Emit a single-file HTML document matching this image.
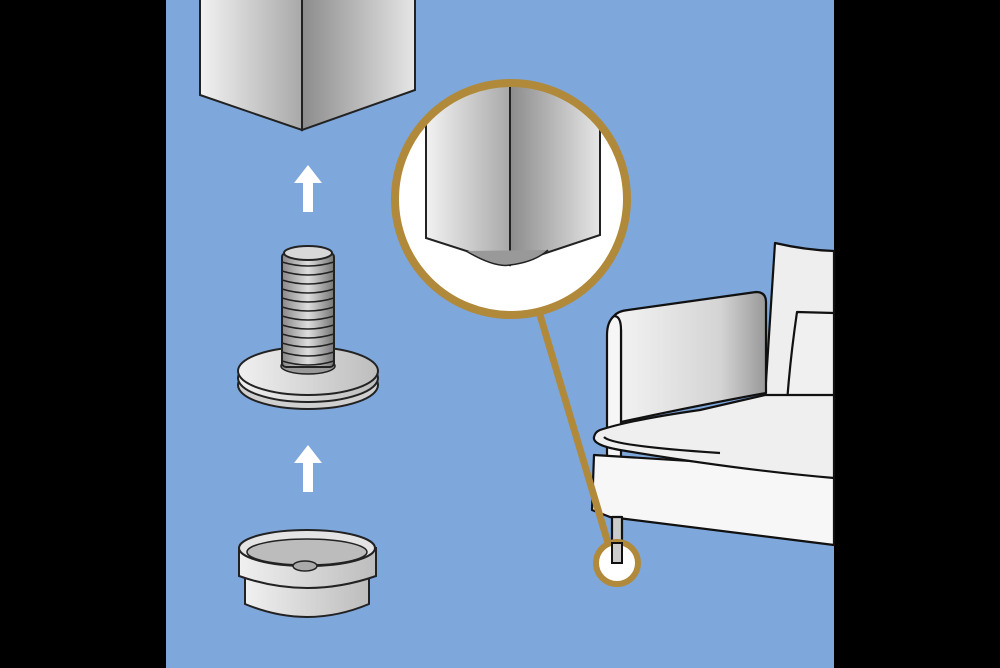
<!DOCTYPE html>
<html><head><meta charset="utf-8"><style>
html,body{margin:0;padding:0;background:#000;}
svg{display:block}
</style></head><body>
<svg width="1000" height="668" viewBox="0 0 1000 668" xmlns="http://www.w3.org/2000/svg">
<defs>
<linearGradient id="m1" x1="0" x2="1"><stop offset="0" stop-color="#f2f2f2"/><stop offset="1" stop-color="#a9a9a9"/></linearGradient>
<linearGradient id="m2" x1="0" x2="1"><stop offset="0" stop-color="#8c8c8c"/><stop offset="1" stop-color="#e6e6e6"/></linearGradient>
<linearGradient id="th" x1="0" x2="1"><stop offset="0" stop-color="#888"/><stop offset="0.5" stop-color="#ddd"/><stop offset="1" stop-color="#777"/></linearGradient>
<linearGradient id="arm" x1="0" x2="1"><stop offset="0" stop-color="#f4f4f4"/><stop offset="0.7" stop-color="#d4d4d4"/><stop offset="1" stop-color="#999"/></linearGradient>
<linearGradient id="cupg" x1="0" x2="1"><stop offset="0" stop-color="#f0f0f0"/><stop offset="1" stop-color="#bdbdbd"/></linearGradient>
<clipPath id="cc"><circle cx="511" cy="199" r="114"/></clipPath>
</defs>
<rect x="0" y="0" width="1000" height="668" fill="#000"/>
<rect x="166" y="0" width="668" height="668" fill="#7ea7dc"/>
<!-- top leg -->
<polygon points="200,-2 302,-2 302,130 200,95" fill="url(#m1)" stroke="#222" stroke-width="2"/>
<polygon points="302,-2 415,-2 415,90 302,130" fill="url(#m2)" stroke="#222" stroke-width="2"/>
<!-- arrows -->
<g fill="#fff"><polygon points="308,165 322,183 313,183 313,212 303,212 303,183 294,183"/>
<polygon points="308,445 322,463 313,463 313,492 303,492 303,463 294,463"/></g>
<!-- screw base -->
<ellipse cx="308" cy="385" rx="70" ry="24" fill="#d0d0d0" stroke="#222" stroke-width="2"/>
<ellipse cx="308" cy="378" rx="70" ry="24" fill="url(#cupg)" stroke="#222" stroke-width="2"/>
<ellipse cx="308" cy="371" rx="70" ry="24" fill="url(#cupg)" stroke="#222" stroke-width="2"/>
<ellipse cx="308" cy="366" rx="27" ry="8" fill="#999" stroke="#222" stroke-width="1.5"/>
<!-- thread -->
<rect x="282" y="253" width="52" height="114" rx="4" fill="url(#th)" stroke="#222" stroke-width="2"/>
<g stroke="#222" stroke-width="1.6" fill="none">
<path d="M282 262q26 8 52 0M282 271q26 8 52 0M282 280q26 8 52 0M282 289q26 8 52 0M282 298q26 8 52 0M282 307q26 8 52 0M282 316q26 8 52 0M282 325q26 8 52 0M282 334q26 8 52 0M282 343q26 8 52 0M282 352q26 8 52 0M282 361q26 8 52 0"/>
</g>
<ellipse cx="308" cy="253" rx="24" ry="7" fill="#d8d8d8" stroke="#222" stroke-width="2"/>
<!-- cup -->
<path d="M245 578 L245 604 Q307 630 369 604 L369 578 Z" fill="url(#cupg)" stroke="#222" stroke-width="2"/>
<path d="M239 548 L239 576 Q307 600 376 576 L376 548 Z" fill="url(#cupg)" stroke="#222" stroke-width="2"/>
<ellipse cx="307" cy="548" rx="68" ry="18" fill="#e4e4e4" stroke="#222" stroke-width="2"/>
<ellipse cx="307" cy="552" rx="60" ry="13" fill="#bcbcbc" stroke="#222" stroke-width="1.5"/>
<ellipse cx="305" cy="566" rx="12" ry="5" fill="#aaa" stroke="#222" stroke-width="1.5"/>
<!-- sofa -->
<g stroke="#111" stroke-width="2.2" fill="#fff" stroke-linejoin="round">
<path d="M775 243 Q805 250 834 251 L834 400 L765 397 Z" fill="#eee"/>
<path d="M797 312 L834 313 L834 405 L787 403 Q790 360 797 312 Z" fill="#f0f0f0"/>
<path d="M614 316 Q618 311 628 310 L756 292 Q766 292 766 302 L766 393 Q700 405 621 422 L621 330 Z" fill="url(#arm)"/>
<path d="M614 316 Q607 322 607 335 L607 512 L621 512 L621 330 Q621 316 614 316 Z" fill="#f6f6f6"/>
<path d="M594 455 L592 510 L610 517 L834 545 L834 470 Z" fill="#f7f7f7"/>
<path d="M600 430 Q630 420 700 410 L765 395 L834 395 L834 478 Q740 470 620 450 Q592 445 594 437 Q595 432 600 430 Z" fill="#efefef"/>
<path d="M604 437 Q612 446 720 453" fill="none"/>
<rect x="612" y="517" width="10" height="46" fill="#ccc"/>
</g>
<!-- connector -->
<line x1="540" y1="315" x2="608" y2="543" stroke="#b08a3a" stroke-width="7"/>
<!-- small circle -->
<circle cx="617" cy="563" r="21" fill="#fff" stroke="#b08a3a" stroke-width="6"/>
<rect x="612" y="543" width="10" height="20" fill="#ccc" stroke="#111" stroke-width="2"/>
<!-- magnified circle -->
<circle cx="511" cy="199" r="116" fill="#fff"/>
<g clip-path="url(#cc)">
<polygon points="426,80 510,80 510,265 426,238" fill="url(#m1)" stroke="#222" stroke-width="2"/>
<polygon points="510,80 600,80 600,235 510,265" fill="url(#m2)" stroke="#222" stroke-width="2"/>
<path d="M466 251 Q495 268 510 265 Q535 262 548 250" fill="#999" stroke="#222" stroke-width="1.5"/>
</g>
<circle cx="511" cy="199" r="116" fill="none" stroke="#b08a3a" stroke-width="8"/>
</svg>
</body></html>
